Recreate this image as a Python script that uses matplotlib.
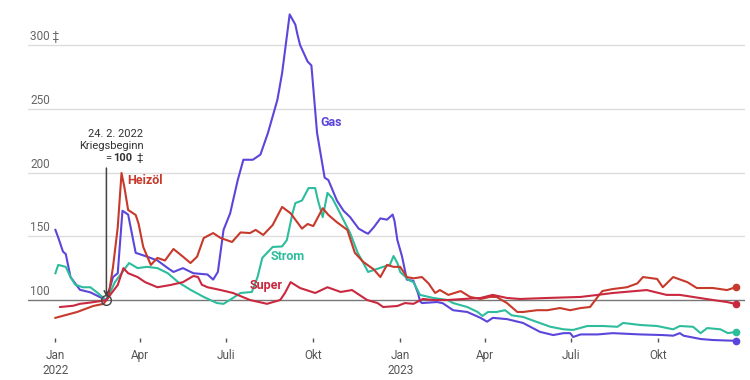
import numpy as np
import matplotlib
matplotlib.use("Agg")
import matplotlib.pyplot as plt

plt.rcParams["font.family"] = ["Roboto", "DejaVu Sans"]

START = np.datetime64("2022-01-01")
WAR_DAY = 54  # 24.2.2022

# Tage seit 1.1.2022 und Indexwerte (24.2.2022 = 100)
gas_days = [0, 3, 8, 11, 16, 26, 37, 48, 54, 61, 66, 71, 77, 85, 97, 108, 119, 125, 135,
            146, 161, 167, 172, 178, 185, 193, 199, 209, 217, 225, 235, 240, 248, 254, 256,
            259, 267, 271, 277, 285, 289, 298, 305, 312, 321, 328, 331, 337, 344, 351, 357,
            359, 362, 367, 372, 379, 384, 386, 388, 404, 410, 421, 436, 450, 457, 463, 478,
            495, 513, 527, 538, 545, 548, 556, 574, 590, 619, 643, 654, 661, 665, 683, 696, 720]
gas_vals = [155, 149, 138, 136, 118, 108, 106, 102, 100, 118, 121, 170, 167, 137, 134, 131,
            125, 122, 125, 121, 120, 116, 122, 155, 168, 194, 210, 210, 214, 231, 257, 278,
            324, 316, 309, 300, 287, 284, 231, 196, 194, 178, 170, 165, 156, 153, 152, 157,
            164, 163, 167, 162, 147, 134, 116, 115, 105, 99, 97.6, 98.4, 97.5, 92, 90.6, 86,
            83, 86, 85, 82, 75, 72.5, 74, 74, 71, 73, 73, 74, 73, 72.5, 72, 74, 72, 69.4,
            68.6, 68]

strom_days = [0, 3, 11, 16, 21, 29, 37, 44, 51, 54, 63, 71, 78, 87, 97, 108, 119, 130, 143,
              157, 171, 178, 188, 196, 208, 214, 219, 230, 240, 245, 251, 254, 261, 268, 275,
              278, 283, 288, 293, 298, 305, 312, 320, 326, 331, 337, 347, 354, 358, 362, 365,
              374, 379, 386, 400, 415, 421, 436, 447, 452, 458, 467, 476, 483, 495, 510, 524,
              538, 548, 563, 580, 595, 601, 619, 637, 654, 661, 675, 683, 690, 704, 712, 720]
strom_vals = [121, 127.5, 126, 118, 112, 110, 110, 106, 101.6, 100, 114, 122, 129, 125, 126,
              125, 121, 114, 108, 102.4, 97.6, 97, 101.6, 105.5, 106.3, 118, 133, 141.6, 142,
              147, 168, 176, 178, 187.8, 187.8, 178, 165, 184, 180, 173, 162.7, 152.5, 137,
              129, 122, 123.5, 126, 127.5, 134.5, 129, 122, 115.7, 114, 104, 101.6, 100, 97.6,
              94.5, 90.6, 87.5, 90.6, 90.6, 92, 88, 86.7, 82.7, 79, 77, 76.5, 79.6, 79.6, 79,
              82, 80.4, 79.6, 77, 79.6, 79, 74, 78, 77, 74, 75]

heizoel_days = [0, 23, 40, 51, 54, 56, 61, 66, 70, 73, 77, 85, 88, 93, 101, 108, 116, 125,
                130, 135, 143, 150, 157, 167, 175, 187, 196, 206, 212, 220, 230, 240, 249,
                261, 267, 273, 283, 289, 298, 309, 317, 326, 337, 344, 351, 358, 365, 372,
                379, 388, 395, 402, 407, 416, 429, 439, 450, 460, 467, 478, 489, 495, 510,
                521, 534, 545, 556, 566, 574, 579, 590, 605, 616, 622, 637, 643, 654, 669,
                679, 696, 711, 720]
heizoel_vals = [86, 90.6, 95.3, 97, 100, 102, 126, 157, 199.6, 188.6, 170.6, 166.7, 160,
                141.6, 127.5, 133, 131, 140, 137, 134, 129, 134, 148.6, 152.5, 148.6, 145.5,
                153, 152.5, 155, 151, 158.8, 173, 168, 156, 159.6, 158, 172, 166.7, 161, 155,
                137, 129.8, 124, 118, 127.5, 126, 126, 118, 117, 118, 113, 105.5, 107.8, 104,
                107, 102.4, 100.8, 102.4, 102.4, 97.6, 90.6, 90.6, 92, 92, 93.7, 92, 93.7,
                94.5, 102.4, 107, 108.6, 110, 113, 118, 116.5, 110, 118, 114, 109.4, 109.4,
                107.8, 110]

super_days = [5, 19, 26, 37, 51, 54, 58, 66, 72, 77, 87, 95, 108, 122, 135, 146, 151, 155,
              161, 175, 188, 206, 224, 238, 243, 249, 259, 275, 288, 302, 314, 330, 341, 347,
              362, 370, 379, 389, 400, 415, 432, 450, 463, 478, 492, 521, 556, 574, 590, 626,
              647, 661, 675, 696, 711, 720]
super_vals = [94.5, 95.5, 97, 98, 99.5, 100, 104, 111.8, 125, 121, 118, 114, 110, 111.8, 114,
              118.8, 118, 112, 110, 107.8, 105.5, 100, 97, 100, 105.5, 114, 109.4, 105.5, 110,
              106.3, 107.8, 100, 97.6, 94.5, 95.3, 97.6, 97, 100.8, 100, 100, 100.8, 101.6,
              104, 101.6, 100.8, 101.6, 102.4, 104, 105.5, 107.8, 104, 104, 102.4, 100, 98.4,
              96.9]

SERIES = [
    ("Gas", gas_days, gas_vals, "#5b46db"),
    ("Strom", strom_days, strom_vals, "#2dbd9d"),
    ("Heizöl", heizoel_days, heizoel_vals, "#c7392b"),
    ("Super", super_days, super_vals, "#c9283f"),
]

# Beschriftungen: (Tag, Wert) der Label-Position
LABEL_POS = {"Gas": (280, 239), "Strom": (228, 134), "Heizöl": (76, 194), "Super": (206, 111)}

TICK_DATES = ["2022-01-01", "2022-04-01", "2022-07-01", "2022-10-01",
              "2023-01-01", "2023-04-01", "2023-07-01", "2023-10-01"]
TICK_LABELS = ["Jan\n2022", "Apr", "Juli", "Okt", "Jan\n2023", "Apr", "Juli", "Okt"]
Y_GRID = [100, 150, 200, 250, 300]


def to_dates(days):
    return START + np.array(np.round(days), dtype="int64").astype("timedelta64[D]")


fig = plt.figure(figsize=(7.5, 3.8), dpi=100)
ax = fig.add_axes([28 / 750, 1 - 342 / 380, 717 / 750, 332 / 380])

for name, days, vals, color in SERIES:
    d = to_dates(days)
    ax.plot(d, vals, color=color, lw=1.5, solid_joinstyle="round", clip_on=False, zorder=3)
    ax.plot(d[-1:], vals[-1:], "o", color=color, ms=4.5, clip_on=False, zorder=4)
    lx, ly = LABEL_POS[name]
    ax.text(to_dates([lx])[0], ly, name, color=color, fontsize=9, fontweight="bold",
            ha="left", va="center", zorder=5)

for v in Y_GRID:
    ax.axhline(v, color="#777777" if v == 100 else "#dddddd", lw=1, zorder=1)
    label = f"{v} ‡" if v == 300 else str(v)
    ax.text(0.003, v + 1.5, label, transform=ax.get_yaxis_transform(), color="#666666",
            fontsize=8.5, ha="left", va="bottom")

# Kriegsbeginn
war = to_dates([WAR_DAY])[0]
ax.annotate("", xy=(war, 102.5), xytext=(war, 203.5),
            arrowprops=dict(arrowstyle="->", color="#444444", lw=1.1,
                            shrinkA=0, shrinkB=0, mutation_scale=8), zorder=6)
ax.plot([war], [100], "o", mfc="none", mec="#444444", ms=7, mew=1, zorder=6)
txt = dict(xy=(war, 203.5), textcoords="offset pixels", ha="right", va="center",
           fontsize=8, color="#333333")
ax.annotate("24. 2. 2022", xytext=(37, 34), **txt)
ax.annotate("Kriegsbeginn", xytext=(37, 22), **txt)
ax.annotate("‡", xytext=(36, 10), **txt)
ax.annotate("100", xytext=(26, 10), fontweight="bold", **txt)
ax.annotate("=", xytext=(5, 10), **txt)

ax.set_xlim(START - np.timedelta64(29, "D"), START + np.timedelta64(730, "D"))
ax.set_ylim(100 - 42 / 1.275, 100 + 290 / 1.275)
ax.set_xticks([np.datetime64(t) for t in TICK_DATES])
ax.set_xticklabels(TICK_LABELS)
ax.tick_params(axis="x", direction="in", length=3, width=1, color="#555555",
               labelsize=8.5, labelcolor="#555555", pad=5)
ax.set_yticks([])
for s in ax.spines.values():
    s.set_visible(False)

fig.savefig("out.png", dpi=100)
